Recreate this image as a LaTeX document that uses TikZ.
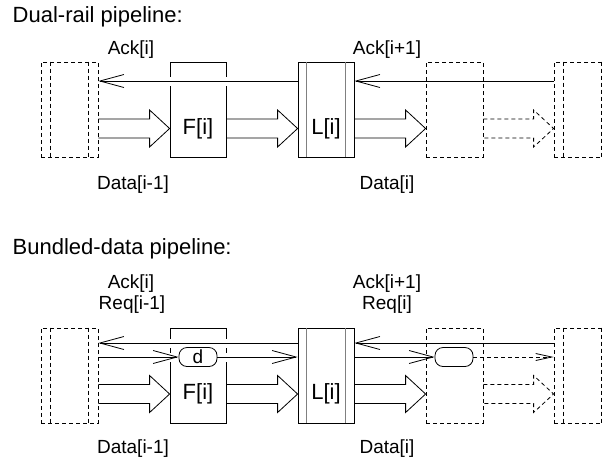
\documentclass[tikz,border=0pt]{standalone}
\usepackage{fontspec}
\setmainfont{Liberation Sans}
\usetikzlibrary{arrows.meta,calc}

% Stile
\tikzset{
  stufe/.style={draw, minimum width=56pt, minimum height=95pt, inner sep=0pt},
  gestrichelt/.style={dash pattern=on 4pt off 3pt},
  latch/.style={stufe, gestrichelt, minimum width=57pt},
  luecke/.style={draw=white, line width=9pt},
  pille/.style={draw, rounded corners=8pt, minimum width=38pt, minimum height=19pt,
    inner sep=0pt, font=\fontsize{19}{22}\selectfont},
  titel/.style={anchor=base west, font=\fontsize{22}{26}\selectfont},
  beschr/.style={anchor=base, font=\fontsize{19}{22}\selectfont},
  boxtext/.style={font=\fontsize{22}{26}\selectfont},
}

% Hohlpfeil von #2 nach #3
\newcommand{\blockpfeil}[3][]{%
  \draw[#1] let \p1=(#2), \p2=(#3) in
    (\x1,\y1+9.5pt) -- (\x2-20pt,\y1+9.5pt) -- (\x2-20pt,\y1+18.5pt) -- (\x2,\y1)
    -- (\x2-20pt,\y1-18.5pt) -- (\x2-20pt,\y1-9.5pt) -- (\x1,\y1-9.5pt);}

\begin{document}
\begin{tikzpicture}[x=1pt, y=-1pt, line width=0.8pt,
    >={Straight Barb[length=24pt, width=13pt]}]

    % Rahmen
    \path[use as bounding box, clip] (0,0) rectangle (602,459);

    % ---------- Dual-rail ----------
    \node[titel] (t0) at (9,22) {Dual-rail pipeline:};

    % Stufen
    \node[latch] (la0) at (69.5,109.5) {};
    \node[stufe] (f0) at (198,109.5) {};
    \node[stufe] (l0) at (326,109.5) {};
    \node[stufe, gestrichelt, minimum width=57pt] (s0) at (454.5,109.5) {};
    \node[latch] (lb0) at (582.5,109.5) {};

    \node[boxtext] (f0t) at ($(f0)+(0,19)$) {F[i]};
    \node[boxtext] (l0t) at ($(l0)+(0,19)$) {L[i]};

    % Hoehen der Leitungen
    \coordinate (ack0) at (0,81);
    \coordinate (dat0) at (0,128.5);

    % Ack-Leitung
    \draw[luecke] ($(f0.west |- ack0)+(-2,0)$) -- ($(f0.east |- ack0)+(2,0)$);
    \draw[->] (lb0.west |- ack0) -- (l0.east |- ack0);
    \draw[->] (l0.west |- ack0) -- (la0.east |- ack0);

    % Daten
    \blockpfeil{la0.east |- dat0}{f0.west |- dat0}
    \blockpfeil{f0.east |- dat0}{l0.west |- dat0}
    \blockpfeil{l0.east |- dat0}{s0.west |- dat0}
    \blockpfeil[gestrichelt]{s0.east |- dat0}{lb0.west |- dat0}

    \node[beschr] (a0l) at (131,54) {Ack[i]};
    \node[beschr] (a1l) at (387,54) {Ack[i+1]};
    \node[beschr] (d0l) at (133,189) {Data[i-1]};
    \node[beschr] (d1l) at (387,189) {Data[i]};

    % ---------- Bundled-data ----------
    \node[titel] (t1) at (9,254) {Bundled-data pipeline:};

    % Stufen
    \node[latch] (la1) at (69.5,375.5) {};
    \node[stufe] (f1) at (198,375.5) {};
    \node[stufe] (l1) at (326,375.5) {};
    \node[stufe, gestrichelt, minimum width=57pt] (s1) at (454.5,375.5) {};
    \node[latch] (lb1) at (582.5,375.5) {};

    \node[boxtext] (f1t) at ($(f1)+(0,18.5)$) {F[i]};
    \node[boxtext] (l1t) at ($(l1)+(0,18.5)$) {L[i]};

    % Innenlinien der Latches und Register
    \foreach \n in {la0,lb0,la1,lb1}
      \draw[gestrichelt] ($(\n.north west)+(10,0)$) -- ($(\n.south west)+(10,0)$)
        ($(\n.north west)+(48,0)$) -- ($(\n.south west)+(48,0)$);
    \foreach \n in {l0,l1}
      \draw[gray] ($(\n.north west)+(9,0)$) -- ($(\n.south west)+(9,0)$)
        ($(\n.north east)+(-9,0)$) -- ($(\n.south east)+(-9,0)$);

    % Hoehen der Leitungen
    \coordinate (ack1) at (0,343);
    \coordinate (req1) at (0,357);
    \coordinate (dat1) at (0,394);

    % Ack- und Req-Leitungen
    \draw[luecke] ($(f1.west |- ack1)+(-2,0)$) -- ($(f1.east |- ack1)+(2,0)$);
    \draw[luecke] ($(f1.west |- req1)+(-2,0)$) -- ($(f1.east |- req1)+(2,0)$);
    \draw[->] (lb1.west |- ack1) -- (l1.east |- ack1);
    \draw[->] (l1.west |- ack1) -- (la1.east |- ack1);

    \node[pille] (dl0) at (198,357) {d};
    \node[pille] (dl1) at (454,357) {};

    \draw[->] (la1.east |- req1) -- (dl0.west);
    \draw[->] (dl0.east) -- (l1.west |- req1);
    \draw[->] (l1.east |- req1) -- (dl1.west);
    \draw[gestrichelt, -{Straight Barb[length=16pt, width=7pt]}] (dl1.east) -- (lb1.west |- req1);

    % Daten
    \blockpfeil{la1.east |- dat1}{f1.west |- dat1}
    \blockpfeil{f1.east |- dat1}{l1.west |- dat1}
    \blockpfeil{l1.east |- dat1}{s1.west |- dat1}
    \blockpfeil[gestrichelt]{s1.east |- dat1}{lb1.west |- dat1}

    \node[beschr] (a2l) at (131,288) {Ack[i]};
    \node[beschr] (r0l) at (132,309) {Req[i-1]};
    \node[beschr] (a3l) at (387,288) {Ack[i+1]};
    \node[beschr] (r1l) at (387,309) {Req[i]};
    \node[beschr] (d2l) at (133,453) {Data[i-1]};
    \node[beschr] (d3l) at (387,453) {Data[i]};

\end{tikzpicture}
\end{document}
